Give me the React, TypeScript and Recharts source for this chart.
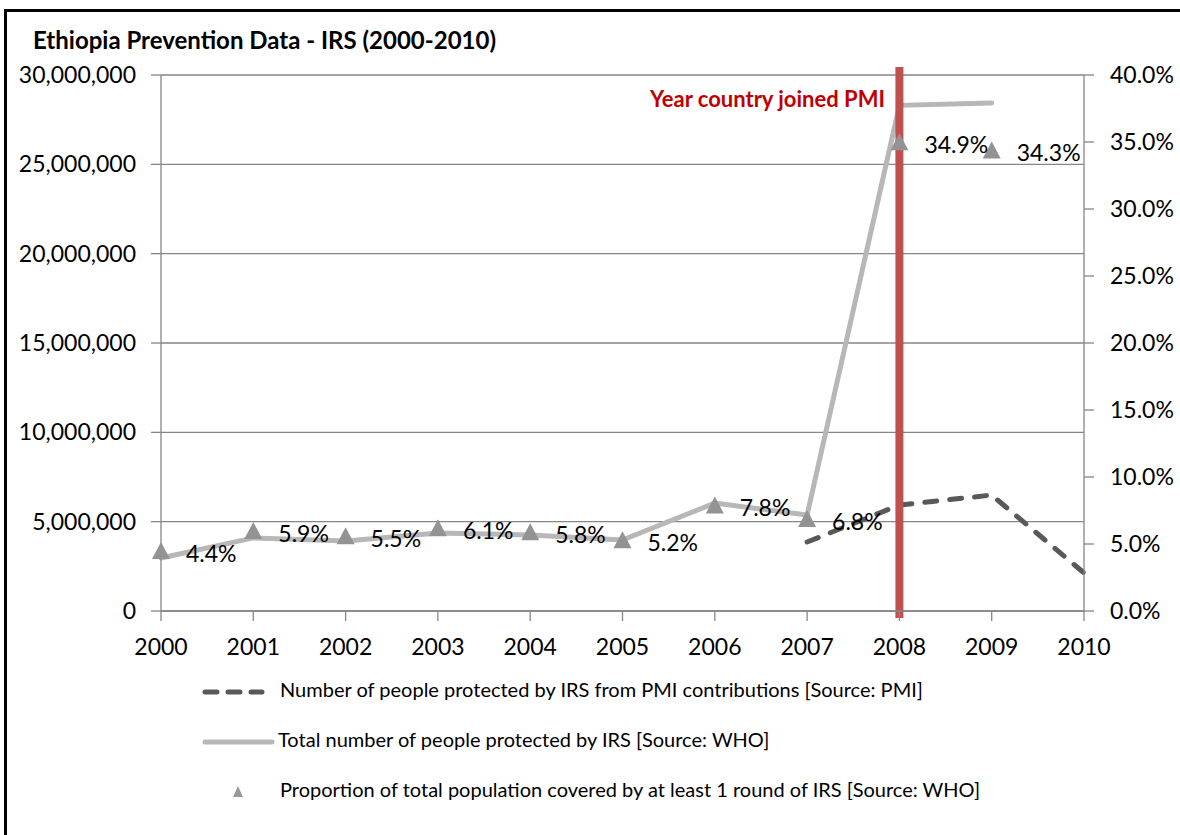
import { LineChart, Line, XAxis, YAxis, CartesianGrid, ReferenceLine, LabelList } from "recharts";

const years = ["2000", "2001", "2002", "2003", "2004", "2005", "2006", "2007", "2008", "2009", "2010"];
const pmiProtected = [null, null, null, null, null, null, null, 3860000, 5930000, 6490000, 2130000];
const whoProtected = [2970000, 4090000, 3920000, 4370000, 4250000, 3970000, 6040000, 5370000, 28300000, 28430000, null];
const coverage = [4.4, 5.9, 5.5, 6.1, 5.8, 5.2, 7.8, 6.8, 34.9, 34.3, null];
const leftTicks = [0, 5000000, 10000000, 15000000, 20000000, 25000000, 30000000];
const rightTicks = [0, 5, 10, 15, 20, 25, 30, 35, 40];
const pmiYear = "2008";

const data = years.map((year, i) => ({
  year,
  pmi: pmiProtected[i],
  who: whoProtected[i],
  pct: coverage[i],
}));

const FONT = "Lato, 'Open Sans', sans-serif";
const GRID = "#868686";

const Triangle = (props: any) => {
  const { cx, cy, value } = props;
  if (value == null || cx == null || cy == null) return null;
  return (
    <polygon
      points={`${cx},${cy - 10} ${cx + 9},${cy + 7} ${cx - 9},${cy + 7}`}
      fill="#939393"
    />
  );
};

const PctLabel = (props: any) => {
  const { x, y, value } = props;
  if (value == null) return null;
  return (
    <text x={x + 25} y={y + 4} dominantBaseline="middle" fontSize={23} fill="#000" fontFamily={FONT}>
      {Number(value).toFixed(1)}%
    </text>
  );
};

export default function App() {
  return (
    <div style={{ position: "absolute", left: 0, top: 0, width: 1180, height: 835, overflow: "hidden", background: "#fff", fontFamily: FONT }}>
      <div style={{ position: "absolute", left: 4, top: 9, width: 1300, height: 1000, border: "3px solid #000" }} />
      <div style={{ position: "absolute", left: 33, top: 26, fontSize: 24, fontWeight: 700, lineHeight: "28px", color: "#000", whiteSpace: "nowrap" }}>
        Ethiopia Prevention Data - IRS (2000-2010)
      </div>
      <LineChart width={1180} height={835} data={data} margin={{ top: 75, right: 0, left: 0, bottom: 174 }} style={{ position: "absolute", left: 0, top: 0 }}>
        <CartesianGrid vertical={false} stroke={GRID} strokeWidth={1.3} yAxisId="left" />
        <XAxis
          dataKey="year"
          scale="point"
          padding={{ left: 0, right: 0 }}
          height={50}
          stroke={GRID}
          strokeWidth={1.3}
          tickSize={10}
          tickMargin={18}
          tick={{ fontSize: 23, fill: "#000", fontFamily: FONT }}
        />
        <YAxis
          yAxisId="left"
          width={161}
          domain={[0, 30000000]}
          ticks={leftTicks}
          interval={0}
          stroke={GRID}
          strokeWidth={1.3}
          tickSize={10}
          tickMargin={15}
          tickFormatter={(v: number) => v.toLocaleString("en-US")}
          tick={{ fontSize: 23, fill: "#000", fontFamily: FONT }}
        />
        <YAxis
          yAxisId="right"
          orientation="right"
          width={96}
          domain={[0, 40]}
          ticks={rightTicks}
          interval={0}
          stroke={GRID}
          strokeWidth={1.3}
          tickSize={10}
          tickMargin={16}
          tickFormatter={(v: number) => v.toFixed(1) + "%"}
          tick={{ fontSize: 23, fill: "#000", fontFamily: FONT, textAnchor: "start" }}
        />
        <Line
          yAxisId="left"
          dataKey="who"
          stroke="#b7b7b7"
          strokeWidth={5}
          strokeLinecap="round"
          dot={false}
          isAnimationActive={false}
        />
        <Line
          yAxisId="left"
          dataKey="pmi"
          stroke="#595959"
          strokeWidth={5}
          strokeDasharray="12 13"
          strokeLinecap="round"
          dot={false}
          isAnimationActive={false}
        />
        <Line
          yAxisId="right"
          dataKey="pct"
          stroke="none"
          dot={<Triangle />}
          activeDot={false}
          isAnimationActive={false}
        >
          <LabelList dataKey="pct" content={<PctLabel />} />
        </Line>
        <ReferenceLine
          yAxisId="left"
          segment={[{ x: pmiYear, y: 30450000 }, { x: pmiYear, y: -390000 }]}
          ifOverflow="visible"
          stroke="#c0504d"
          strokeWidth={8}
        />
      </LineChart>
      <div style={{ position: "absolute", right: 295, top: 86, fontSize: 22, fontWeight: 700, color: "#c00000", lineHeight: "26px", whiteSpace: "nowrap" }}>
        Year country joined PMI
      </div>
      <svg width={1180} height={140} style={{ position: "absolute", left: 0, top: 660 }}>
        <line x1={205} y1={32} x2={262} y2={32} stroke="#595959" strokeWidth={5} strokeDasharray="12 11" strokeLinecap="round" />
        <text x={280} y={32} dominantBaseline="middle" fontSize={20} fontFamily={FONT} fill="#000">
          Number of people protected by IRS from PMI contributions [Source: PMI]
        </text>
        <line x1={205} y1={82} x2={272} y2={82} stroke="#b7b7b7" strokeWidth={5} strokeLinecap="round" />
        <text x={278} y={82} dominantBaseline="middle" fontSize={20} fontFamily={FONT} fill="#000">
          Total number of people protected by IRS [Source: WHO]
        </text>
        <polygon points="238,126 243,137 233,137" fill="#999" />
        <text x={280} y={132} dominantBaseline="middle" fontSize={20} fontFamily={FONT} fill="#000">
          Proportion of total population covered by at least 1 round of IRS [Source: WHO]
        </text>
      </svg>
    </div>
  );
}
